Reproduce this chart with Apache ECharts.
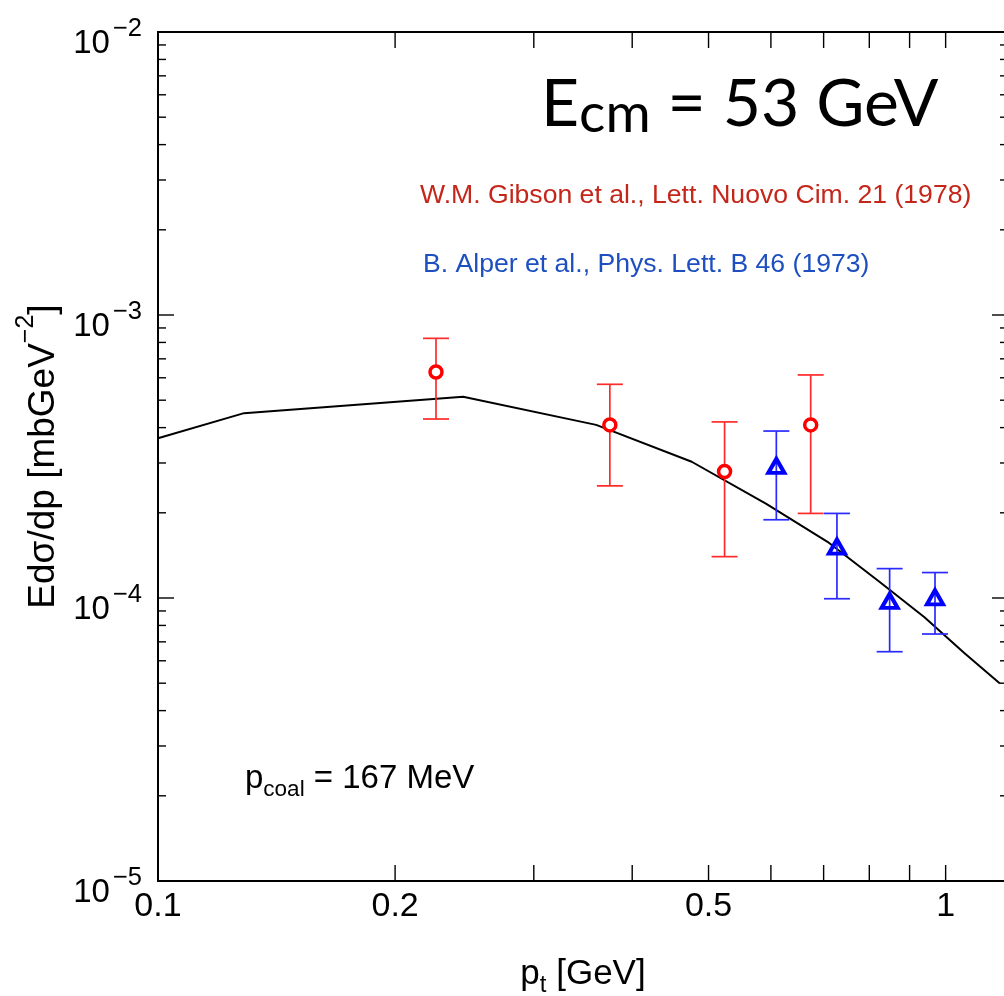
<!DOCTYPE html>
<html><head><meta charset="utf-8">
<script src="https://cdn.jsdelivr.net/npm/echarts@6/dist/echarts.min.js"></script>
<style>html,body{margin:0;padding:0;background:#fff}#c{width:1004px;height:996px}</style>
</head><body><div id="c"></div>
<script>
// ---- data ----
const gibsonPt   = [0.2254, 0.3747, 0.524, 0.674];
const gibsonVal  = [6.29e-4, 4.09e-4, 2.80e-4, 4.09e-4];
const gibsonLow  = [4.29e-4, 2.49e-4, 1.40e-4, 1.99e-4];
const gibsonHigh = [8.27e-4, 5.69e-4, 4.19e-4, 6.14e-4];

const alperPt   = [0.6096, 0.7278, 0.849, 0.9694];
const alperVal  = [2.93e-4, 1.52e-4, 0.976e-4, 1.006e-4];
const alperLow  = [1.89e-4, 0.994e-4, 0.646e-4, 0.746e-4];
const alperHigh = [3.89e-4, 1.99e-4, 1.27e-4, 1.23e-4];

const modelPt  = [0.1, 0.1286, 0.244, 0.360, 0.476, 0.592, 0.708, 0.824, 0.940, 1.056, 1.172];
const modelVal = [3.67e-4, 4.50e-4, 5.14e-4, 4.09e-4, 3.03e-4, 2.15e-4, 1.58e-4, 1.142e-4, 8.55e-5, 6.39e-5, 4.99e-5];

const xRange = [0.1, 1.2];
const yRange = [1e-5, 1e-2];
const xTickVals  = [0.2, 0.3, 0.4, 0.5, 0.6, 0.7, 0.8, 0.9, 1];
const xLabelVals = [0.1, 0.2, 0.5, 1];
const yMantissas = [1, 2, 3, 4, 5, 6, 7, 8, 9];
const yDecades   = [1e-5, 1e-4, 1e-3];
const yTickVals  = yDecades.flatMap(d => yMantissas.map(m => m * d)).concat([1e-2]);

const labelGibson = 'W.M. Gibson et al., Lett. Nuovo Cim. 21 (1978)';
const labelAlper  = 'B. Alper et al., Phys. Lett. B 46 (1973)';

// ---- chart ----
const FONT = "'Liberation Sans', Arial, Helvetica, sans-serif";
const TFONT = "Lato, 'Open Sans', sans-serif";
const chart = echarts.init(document.getElementById('c'), null, {renderer: 'canvas'});

function isDecade(v) { const l = Math.log10(v); return Math.abs(l - Math.round(l)) < 1e-6; }

function errBarSeries(name, xs, lo, hi, color) {
  return {
    name, type: 'custom', coordinateSystem: 'cartesian2d', clip: false, z: 3,
    data: xs.map((x, i) => [x, lo[i], hi[i]]),
    encode: {x: 0, y: [1, 2]},
    renderItem(params, api) {
      const x = api.value(0);
      const a = api.coord([x, api.value(1)]);
      const b = api.coord([x, api.value(2)]);
      const w = 13;
      const st = {stroke: color, lineWidth: 1.7};
      return {type: 'group', children: [
        {type: 'line', shape: {x1: a[0], y1: a[1], x2: b[0], y2: b[1]}, style: st},
        {type: 'line', shape: {x1: a[0] - w, y1: a[1], x2: a[0] + w, y2: a[1]}, style: st},
        {type: 'line', shape: {x1: b[0] - w, y1: b[1], x2: b[0] + w, y2: b[1]}, style: st}
      ]};
    }
  };
}

const option = {
  animation: false,
  backgroundColor: '#fff',
  title: [
    {text: '{E|E}{c|cm}{E| = 53 GeV}', left: 541, top: 72, padding: 0,
     textStyle: {fontWeight: 'normal', rich: {
       E: {fontFamily: TFONT, fontWeight: 'normal', fontSize: 66, lineHeight: 66, verticalAlign: 'top', color: '#000'},
       c: {fontFamily: TFONT, fontWeight: 'normal', fontSize: 55, lineHeight: 55, verticalAlign: 'top', padding: [15, 0, 0, 0], color: '#000'}
     }}},
    {text: labelGibson, left: 420, top: 182, padding: 0,
     textStyle: {fontFamily: FONT, fontSize: 26.6, fontWeight: 'normal', color: '#c4261a'}},
    {text: labelAlper, left: 423, top: 251, padding: 0,
     textStyle: {fontFamily: FONT, fontSize: 26.6, fontWeight: 'normal', color: '#1d4fc0'}},
    {text: '{p|p}{s|coal}{p| = 167 MeV}', left: 245, top: 762, padding: 0,
     textStyle: {fontWeight: 'normal', rich: {
       p: {fontFamily: FONT, fontWeight: 'normal', fontSize: 33, lineHeight: 33, verticalAlign: 'top', color: '#000'},
       s: {fontFamily: FONT, fontWeight: 'normal', fontSize: 22.5, lineHeight: 22.5, verticalAlign: 'top', padding: [16, 0, 0, 0], color: '#000'}
     }}}
  ],
  grid: {left: 158, top: 32, right: -4, bottom: 115, show: true, borderColor: '#000', borderWidth: 2,
         containLabel: false, outerBoundsMode: 'none'},
  xAxis: {
    type: 'log', logBase: 10, min: xRange[0], max: xRange[1],
    axisLine: {show: false}, axisTick: {show: false}, axisLabel: {show: false}, splitLine: {show: false},
    name: '{b|p}{s|t}{b| [GeV]}', nameLocation: 'middle', nameGap: 76,
    nameTextStyle: {rich: {
      b: {fontFamily: FONT, fontSize: 35, lineHeight: 35, verticalAlign: 'top', color: '#000'},
      s: {fontFamily: FONT, fontSize: 24, lineHeight: 24, verticalAlign: 'top', padding: [16, 0, 0, 0], color: '#000'}
    }}
  },
  yAxis: {
    type: 'log', logBase: 10, min: yRange[0], max: yRange[1],
    axisLine: {show: false}, axisTick: {show: false}, splitLine: {show: false},
    axisLabel: {
      margin: 16,
      formatter: v => '{b|10}{s|\u2212' + Math.abs(Math.round(Math.log10(v))) + '}',
      rich: {
        b: {fontFamily: FONT, fontSize: 33, lineHeight: 33, verticalAlign: 'top', padding: [12, 0, 0, 0], color: '#000'},
        s: {fontFamily: FONT, fontSize: 25.5, lineHeight: 25.5, verticalAlign: 'top', padding: [0, 0, 0, 3], color: '#000'}
      }
    },
    name: '{b|Ed\u03c3/dp [mbGeV}{s|\u22122}{b|]}', nameLocation: 'middle', nameRotate: 90, nameGap: 98,
    nameTextStyle: {rich: {
      b: {fontFamily: FONT, fontSize: 37, lineHeight: 37, verticalAlign: 'top', padding: [12, 0, 0, 0], color: '#000'},
      s: {fontFamily: FONT, fontSize: 25, lineHeight: 25, verticalAlign: 'top', color: '#000'}
    }}
  },
  series: [
    {
      name: 'model', type: 'line', z: 2, symbol: 'none', clip: true,
      data: modelPt.map((x, i) => [x, modelVal[i]]),
      lineStyle: {color: '#000', width: 2}
    },
    errBarSeries('gibsonErr', gibsonPt, gibsonLow, gibsonHigh, '#ff2a2a'),
    errBarSeries('alperErr', alperPt, alperLow, alperHigh, '#2a2aff'),
    {
      name: 'Gibson', type: 'scatter', z: 4, symbol: 'circle', symbolSize: 12,
      data: gibsonPt.map((x, i) => [x, gibsonVal[i]]),
      itemStyle: {color: '#fff', borderColor: '#ff0000', borderWidth: 3.5, opacity: 1}
    },
    {
      name: 'Alper', type: 'scatter', z: 4, symbol: 'triangle', symbolSize: [16, 14],
      data: alperPt.map((x, i) => [x, alperVal[i]]),
      itemStyle: {color: 'rgba(255,255,255,0)', borderColor: '#0000ff', borderWidth: 4, opacity: 1}
    },
    {
      name: 'xTicks', type: 'custom', coordinateSystem: 'cartesian2d', clip: false, z: 5, silent: true,
      data: xTickVals.map(v => [v, yRange[0]]),
      renderItem(params, api) {
        const v = api.value(0);
        const b = api.coord([v, yRange[0]]);
        const t = api.coord([v, yRange[1]]);
        const st = {stroke: '#000', lineWidth: 1.4};
        return {type: 'group', children: [
          {type: 'line', shape: {x1: b[0], y1: b[1], x2: b[0], y2: b[1] - 16}, style: st},
          {type: 'line', shape: {x1: t[0], y1: t[1], x2: t[0], y2: t[1] + 16}, style: st}
        ]};
      }
    },
    {
      name: 'yTicks', type: 'custom', coordinateSystem: 'cartesian2d', clip: false, z: 5, silent: true,
      data: yTickVals.map(v => [xRange[0], v]),
      renderItem(params, api) {
        const v = api.value(1);
        const l = api.coord([xRange[0], v]);
        const r = api.coord([xRange[1], v]);
        const len = isDecade(v) ? 16 : 8;
        const st = {stroke: '#000', lineWidth: 1.4};
        return {type: 'group', children: [
          {type: 'line', shape: {x1: l[0], y1: l[1], x2: l[0] + len, y2: l[1]}, style: st},
          {type: 'line', shape: {x1: r[0], y1: r[1], x2: r[0] - len, y2: r[1]}, style: st}
        ]};
      }
    },
    {
      name: 'xLabels', type: 'custom', coordinateSystem: 'cartesian2d', clip: false, z: 5, silent: true,
      data: xLabelVals.map(v => [v, yRange[0]]),
      renderItem(params, api) {
        const v = api.value(0);
        const p = api.coord([v, yRange[0]]);
        return {type: 'text', x: p[0], y: p[1] + 9, style: {
          text: String(v), fill: '#000', fontSize: 34, fontFamily: FONT,
          align: 'center', verticalAlign: 'top', textAlign: 'center', textVerticalAlign: 'top'
        }};
      }
    }
  ]
};
chart.setOption(option);
</script>
</body></html>
